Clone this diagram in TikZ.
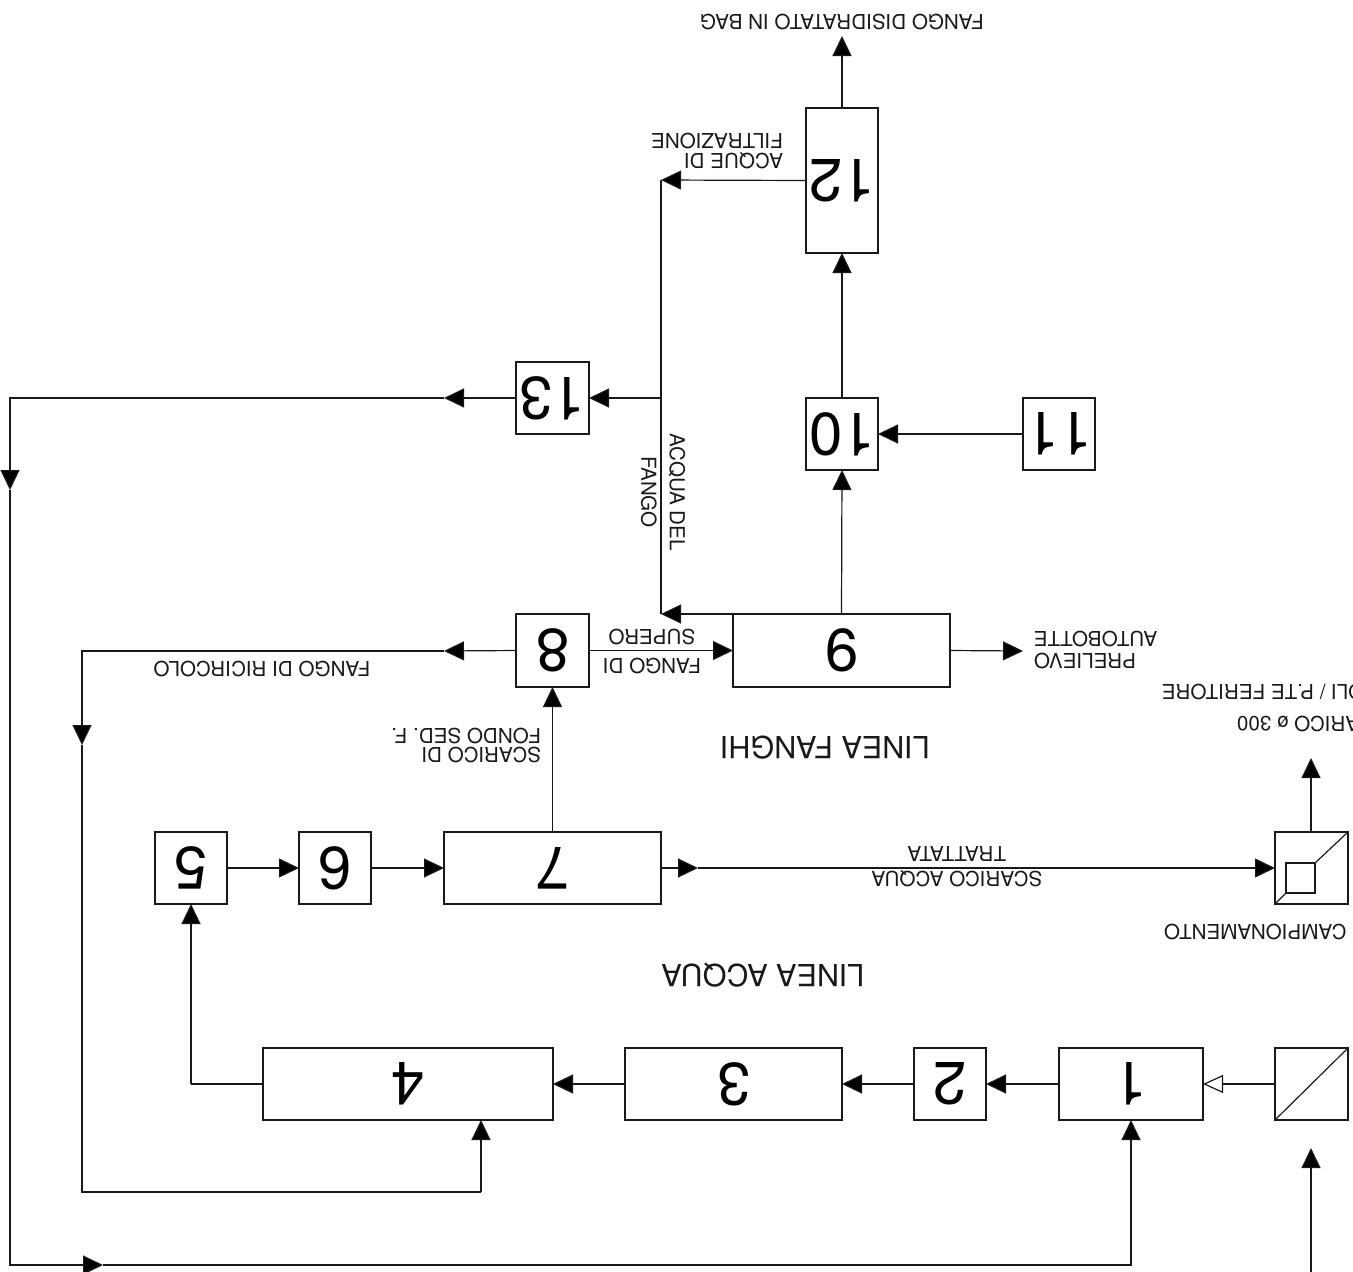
\documentclass[tikz,border=0pt]{standalone}
\usepackage{fontspec}
\usepackage{graphicx}
\setmainfont{TeX Gyre Heros}
\usetikzlibrary{arrows.meta}
\tikzset{
  x=1pt,y=-1pt,
  conn/.style={draw=black!90,line join=miter},
  arr/.style={conn,-{Triangle[length=20pt,width=19pt,fill=black]}},
  openarr/.style={conn,-{Triangle[open,length=20pt,width=18pt,fill=white]}},
  blk/.style={draw=black!90,rectangle,inner sep=0pt,outer sep=0pt,font=\fontsize{60}{60}\selectfont},
  lab/.style={rotate=180,inner sep=0pt,outer sep=0pt,font=\fontsize{20.6}{19.7}\selectfont,text=black!90},
  big/.style={lab,font=\fontsize{30.5}{30.5}\selectfont},
  vlab/.style={lab,rotate=-270},
}
\newcommand{\blkbox}[6]{\node[blk,minimum width=#4pt-#3pt,minimum height=#6pt-#5pt] (#1) at ({(#3+#4)/2},{(#5+#6)/2}) {\rotatebox{180}{#2}};}
\begin{document}
\begin{tikzpicture}[line width=1.2pt]
\useasboundingbox (0,0) rectangle (1353,1272);
\clip (0,0) rectangle (1353,1272);
\blkbox{n1}{1}{1059}{1203}{1048}{1120}
\blkbox{n2}{2}{914}{986}{1048}{1120}
\blkbox{n3}{3}{625}{842}{1048}{1120}
\blkbox{n4}{4}{263}{553}{1048}{1120}
\blkbox{n5}{5}{155}{227}{832}{904}
\blkbox{n6}{6}{299}{371}{832}{904}
\blkbox{n7}{7}{444}{661}{832}{904}
\blkbox{n8}{8}{516}{589}{614}{687}
\blkbox{n9}{9}{733}{950}{614}{687}
\blkbox{n10}{10}{806}{878}{398}{470}
\blkbox{n11}{11}{1023}{1095}{398}{470}
\blkbox{n12}{12}{806}{878}{108}{253}
\blkbox{n13}{13}{516}{589}{362}{434}
\blkbox{sin}{}{1275}{1348}{1048}{1120}
\blkbox{sout}{}{1275}{1348}{832}{904}
\blkbox{sinner}{}{1286}{1315}{863}{893}
% symbol diagonals
\draw[conn] (sin.south west) -- (sin.north east);
\draw[conn] (sout.south west) -- (sinner.south west);
\draw[conn] (sinner.north east) -- (sout.north east);
% free ends and bends
\coordinate (top) at (842,36);
\coordinate (jfil) at (661,180);
\coordinate (j9) at (661,614);
\coordinate (j13) at (661,398);
\coordinate (m13) at (444,398);
\coordinate (c13a) at (10,398);
\coordinate (m13b) at (10,490);
\coordinate (c13c) at (10,1265);
\coordinate (m13d) at (103,1265);
\coordinate (c13e) at (1131,1265);
\coordinate (m8) at (444,651);
\coordinate (c8a) at (82,651);
\coordinate (m8b) at (82,745);
\coordinate (c8c) at (82,1192);
\coordinate (c8d) at (481,1192);
\coordinate (pre) at (1023,651);
\coordinate (c45) at (191,1084);
\coordinate (m7) at (698,868);
\coordinate (sup) at (1311,758);
\coordinate (inl) at (1311,1272);
\coordinate (inlt) at (1311,1148);
% water line
\draw[openarr] (sin.west) -- (n1.east);
\draw[arr] (n1.west) -- (n2.east);
\draw[arr] (n2.west) -- (n3.east);
\draw[arr] (n3.west) -- (n4.east);
\draw[conn] (n4.west) -- (c45);
\draw[arr] (c45) -- (n5.south);
\draw[arr] (n5.east) -- (n6.west);
\draw[arr] (n6.east) -- (n7.west);
\draw[arr] (n7.east) -- (m7);
\draw[arr] (m7) -- (sout.west);
\draw[arr] (sout.north -| sup) -- (sup);
\draw[arr] (inl) -- (inlt);
% sludge line
\draw[arr] (n7.north) -- (n7.north |- n8.south);
\draw[arr] (n8.east) -- (n9.west);
\draw[arr] (n9.east) -- (pre);
\draw[arr] (n9.north) -- (n10.south);
\draw[arr] (n11.west) -- (n10.east);
\draw[arr] (n10.north) -- (n12.south);
\draw[arr] (n12.north) -- (top);
\draw[arr] (n12.west) -- (jfil);
\draw[conn] (jfil) -- (j9);
\draw[arr] (n9.north west) -- (j9);
\draw[arr] (j13) -- (n13.east);
% recirculation
\draw[arr] (n8.west) -- (m8);
\draw[arr] (m8) -- (c8a) -- (m8b);
\draw[conn] (m8b) -- (c8c) -- (c8d);
\draw[arr] (c8d) -- (n4.south -| c8d);
\draw[arr] (n13.west) -- (m13);
\draw[arr] (m13) -- (c13a) -- (m13b);
\draw[arr] (m13b) -- (c13c) -- (m13d);
\draw[arr] (m13d) -- (c13e) -- (n1.south -| c13e);
% labels
\node[lab] (t1) at (842,22) {FANGO DISIDRATATO IN BAG};
\node[lab,align=left,anchor=west] (t2) at (783,151) {ACQUE DI\\FILTRAZIONE};
\node[vlab] (t3) at (677,492) {ACQUA DEL};
\node[vlab] (t4) at (649,492) {FANGO};
\node[lab] (t5) at (652,666) {FANGO DI};
\node[lab] (t6) at (652,637) {SUPERO};
\node[lab,align=right,anchor=east] (t7) at (1034,650) {PRELIEVO\\[1.5pt]AUTOBOTTE};
\node[lab] (t8) at (262,669) {FANGO DI RICIRCOLO};
\node[lab,align=left,anchor=west] (t9) at (541,745.5) {SCARICO DI\\FONDO SED. F.};
\node[big] (t10) at (825,748) {LINEA FANGHI};
\node[big] (t11) at (763,975) {LINEA ACQUA};
\node[lab] (t12) at (957,879) {SCARICO ACQUA};
\node[lab] (t13) at (957,854) {TRATTATA};
\node[lab,anchor=east] (t14) at (1162,692) {SCOLI / P.TE FERITORE};
\node[lab,anchor=east] (t15) at (1237,724) {SCARICO ø 300};
\node[lab,anchor=east] (t16) at (1164,932) {POZZETTO CAMPIONAMENTO};
\end{tikzpicture}
\end{document}
